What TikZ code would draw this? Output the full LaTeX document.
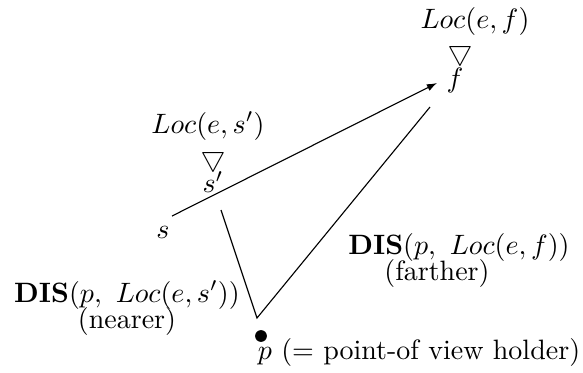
\documentclass[tikz,border=0pt]{standalone}
\usetikzlibrary{arrows.meta}
\begin{document}
\begin{tikzpicture}[x=0.357pt,y=-0.357pt,inner sep=0pt,
  lbl/.style={inner sep=0pt},
  conn/.style={line width=0.4pt},
  arr/.style={conn,-{Latex[length=3.6pt,width=2.6pt]}}]
\useasboundingbox (0,0) rectangle (583,372);
\node[lbl] (locf) at (475,21) {$Loc(e,f)$};
\node[lbl] (trif) at (460,53) {$\bigtriangledown$};
\node[lbl] (f) at (455,80) {$f$};
\node[lbl] (locs) at (208,126) {$Loc(e,s')$};
\node[lbl] (tris) at (213,159) {$\bigtriangledown$};
\node[lbl] (sp) at (213,182) {$s'$};
\node[lbl] (s) at (163,232) {$s$};
\coordinate (a0) at (172,216);
\coordinate (a1) at (437,83);
\draw[arr] (a0) -- (a1);
\coordinate (n0) at (221,210);
\coordinate (v) at (257,318);
\coordinate (f0) at (430,107);
\draw[conn] (n0) -- (v) -- (f0);
\node[lbl] (dis1) at (127,295) {$\mathbf{DIS}(p,\ Loc(e,s'))$};
\node[lbl] (near) at (127,321) {(nearer)};
\node[lbl] (dis2) at (459,247) {$\mathbf{DIS}(p,\ Loc(e,f))$};
\node[lbl] (far) at (437,273) {(farther)};
\node[circle,fill,minimum size=4.2pt,inner sep=0pt] (dot) at (261,336) {};
\node[lbl] (p) at (419,352) {$p$ (= point-of view holder)};
\end{tikzpicture}
\end{document}
